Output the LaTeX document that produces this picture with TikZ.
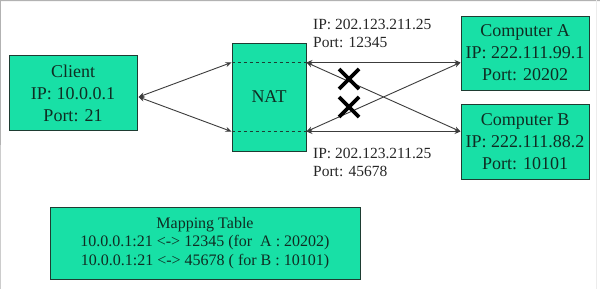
\documentclass[tikz,border=0pt]{standalone}
\usepackage{fontspec}
\setmainfont{Liberation Serif}
\newfontfamily\tnr{Liberation Serif}
\usetikzlibrary{arrows.meta,calc}
\definecolor{boxfill}{RGB}{24,224,166}
\definecolor{boxdraw}{RGB}{30,60,50}
\definecolor{boxtext}{RGB}{15,45,35}
\definecolor{linec}{RGB}{60,60,60}
\begin{document}
\begin{tikzpicture}[x=1pt,y=-1pt,
  box/.style={draw=boxdraw,line width=1pt,fill=boxfill,inner sep=0pt,align=center,text=boxtext,
    font=\tnr\fontsize{18}{22}\selectfont},
  conn/.style={draw=linec,line width=0.9pt,{Stealth[length=6pt,width=5pt]}-{Stealth[length=6pt,width=5pt]}},
  lbl/.style={inner sep=0pt,align=left,anchor=west,text=black!85,font=\tnr\fontsize{15.5}{18.5}\selectfont},
  xmark/.style={line width=3.8pt,black}]
\useasboundingbox (0,0) rectangle (600,289);
\fill[white] (0,0) rectangle (600,289);
\draw[gray!60,line width=1pt] (0,289) -- (0.5,0.5) -- (600,0.5);
\draw[gray!15,line width=1pt] (596,0) -- (596,289);

\node[box,minimum width=128pt,minimum height=75pt] (client) at (73,93) {Client\\IP: 10.0.0.1\\Port: 21};
\node[box,minimum width=74pt,minimum height=108pt] (nat) at (269,97) {NAT};
\node[box,minimum width=128pt,minimum height=74pt] (compA) at (525,53) {Computer A\\IP: 222.111.99.1\\Port: 20202};
\node[box,minimum width=128pt,minimum height=75pt] (compB) at (525,141.5) {Computer B\\IP: 222.111.88.2\\Port: 10101};
\node[box,minimum width=310pt,minimum height=72pt,font=\tnr\fontsize{16}{18.3}\selectfont] (map) at (205,243)
  {Mapping Table\\10.0.0.1:21 <-> 12345 (for\ \ A : 20202)\\10.0.0.1:21 <-> 45678 ( for B : 10101)};

\draw[boxdraw,dashed,line width=0.8pt] ($(nat.north west)+(0,20)$) coordinate (nl1) -- ($(nat.north east)+(0,20)$) coordinate (nr1);
\draw[boxdraw,dashed,line width=0.8pt] ($(nat.south west)+(0,-20)$) coordinate (nl2) -- ($(nat.south east)+(0,-20)$) coordinate (nr2);

\coordinate (cl) at (138.5,97);
\coordinate (a1) at (compA.west |- nr1);
\coordinate (b1) at (compB.west |- nr2);

\draw[conn] (cl) -- (nl1);
\draw[conn] (cl) -- (nl2);
\draw[conn] (nr1) -- (a1);
\draw[conn] (nr1) -- (b1);
\draw[conn] (nr2) -- (a1);
\draw[conn] (nr2) -- (b1);

\node[lbl] (ltop) at (313,33.5) {IP: 202.123.211.25\\Port: 12345};
\node[lbl] (lbot) at (313,162.5) {IP: 202.123.211.25\\Port: 45678};

\draw[xmark] (339,69) -- (359,89) (339,89) -- (359,69);
\draw[xmark] (339,97) -- (359,117) (339,117) -- (359,97);
\end{tikzpicture}
\end{document}
